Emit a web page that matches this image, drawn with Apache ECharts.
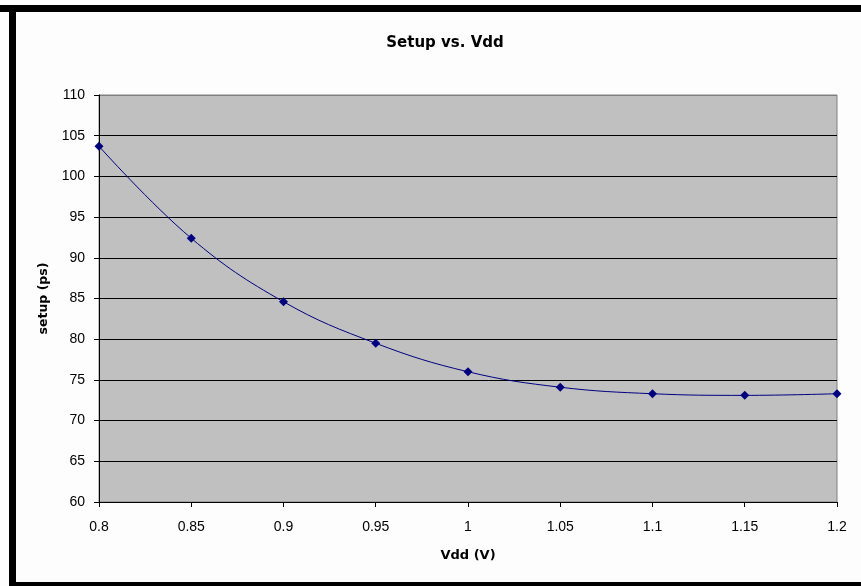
<!DOCTYPE html>
<html>
<head>
<meta charset="utf-8">
<script src="https://cdn.jsdelivr.net/npm/echarts@6/dist/echarts.min.js"></script>
<style>
html,body{margin:0;padding:0;background:#fdfdfd;}
#c{width:861px;height:586px;}
</style>
</head>
<body>
<div id="c"></div>
<script>
const vdd = [0.8, 0.85, 0.9, 0.95, 1.0, 1.05, 1.1, 1.15, 1.2];
const setup = [103.7, 92.4, 84.6, 79.5, 76.0, 74.1, 73.3, 73.1, 73.3];
const title = 'Setup vs. Vdd';
const xName = 'Vdd (V)';
const yName = 'setup (ps)';

const chart = echarts.init(document.getElementById('c'), null, {renderer: 'canvas'});
const font = '"Liberation Sans", Arial, sans-serif';
const bold = '"DejaVu Sans", sans-serif';
const splitColors = ['#000','#000','#000','#000','#000','#000','#000','#000','#000','#000','#808080'];
chart.setOption({
  backgroundColor: '#fdfdfd',
  animation: false,
  title: {
    text: title, left: 440, top: 31, textAlign: 'center',
    textStyle: {fontFamily: bold, fontSize: 15, fontWeight: 'bold', color: '#000'}
  },
  grid: {
    left: 99, top: 95, right: 24, bottom: 84,
    show: true, backgroundColor: '#c0c0c0', borderColor: '#808080', borderWidth: 1
  },
  xAxis: {
    type: 'value', min: 0.8, max: 1.2, interval: 0.05,
    name: xName, nameLocation: 'middle', nameGap: 47,
    nameTextStyle: {fontFamily: bold, fontSize: 13, fontWeight: 'bold', color: '#000'},
    axisLine: {lineStyle: {color: '#000', width: 1}},
    axisTick: {show: true, length: 5, inside: false, lineStyle: {color: '#000'}},
    axisLabel: {fontFamily: font, fontSize: 14, color: '#000', margin: 18,
      formatter: v => String(+v.toFixed(2))},
    splitLine: {show: false}
  },
  yAxis: {
    type: 'value', min: 60, max: 110, interval: 5,
    name: yName, nameLocation: 'middle', nameGap: 48, nameRotate: 90,
    nameTextStyle: {fontFamily: bold, fontSize: 12.5, fontWeight: 'bold', color: '#000'},
    axisLine: {show: true, lineStyle: {color: '#000', width: 1}},
    axisTick: {show: true, length: 5, lineStyle: {color: '#000'}},
    axisLabel: {fontFamily: font, fontSize: 14, color: '#000', margin: 14},
    splitLine: {show: true, lineStyle: {color: splitColors, width: 1}}
  },
  series: [{
    type: 'line',
    data: vdd.map((x, i) => [x, setup[i]]),
    smooth: 0.4,
    symbol: 'diamond', symbolSize: 9,
    lineStyle: {color: '#000080', width: 1},
    itemStyle: {color: '#000080'}
  }],
  graphic: [
    {type: 'rect', shape: {x: 0, y: 5, width: 861, height: 7}, style: {fill: '#000'}, silent: true},
    {type: 'rect', shape: {x: 9, y: 5, width: 7, height: 581}, style: {fill: '#000'}, silent: true},
    {type: 'rect', shape: {x: 9, y: 582, width: 852, height: 4}, style: {fill: '#000'}, silent: true}
  ]
});
</script>
</body>
</html>
